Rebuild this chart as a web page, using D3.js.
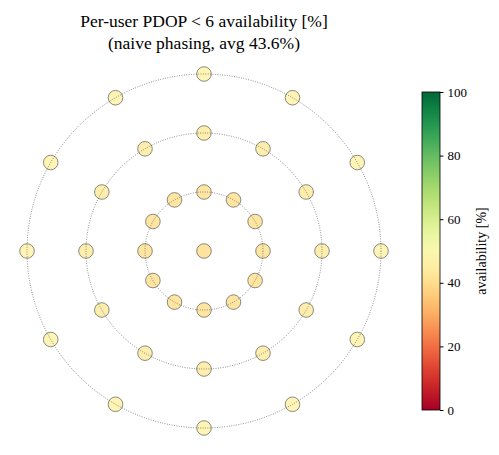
<!DOCTYPE html>
<html><head><meta charset="utf-8">
<script src="https://cdn.jsdelivr.net/npm/d3@7"></script>
<style>body{margin:0;background:#fff} text{font-family:"Liberation Serif","DejaVu Serif",serif}</style>
</head><body>
<svg id="c" width="499" height="455"></svg>
<script>
// --- data ---
const ringRadius = [0, 1, 2, 3];           // ring index (user distance)
const ringCount = [1, 12, 12, 12];         // users per ring
const ringValue = [40, 41, 44, 46.5];      // availability [%] per ring
const cbTicks = [0, 20, 40, 60, 80, 100];
const titleLines = ["Per-user PDOP < 6 availability [%]", "(naive phasing, avg 43.6%)"];

const users = [];
ringRadius.forEach((r, i) => {
  for (let k = 0; k < ringCount[i]; k++) {
    users.push({ r: r, ang: k * 360 / ringCount[i], v: ringValue[i] });
  }
});

const svg = d3.select("#c");
const cx = 204, cy = 251;
const rs = d3.scaleLinear().domain([0, 3]).range([0, 177]);
const color = v => d3.interpolateRdYlGn(v / 100);

const g = svg.append("g").attr("transform", `translate(${cx},${cy})`);
g.selectAll("circle.u").data(users).join("circle").attr("class", "u")
  .attr("cx", d => rs(d.r) * Math.sin(d.ang * Math.PI / 180))
  .attr("cy", d => -rs(d.r) * Math.cos(d.ang * Math.PI / 180))
  .attr("r", 7.3)
  .attr("fill", d => color(d.v)).attr("fill-opacity", 0.85)
  .attr("stroke", "#5a5a5a").attr("stroke-width", 0.7);
g.selectAll("circle.ring").data(ringRadius.filter(r => r > 0)).join("circle").attr("class", "ring")
  .attr("r", d => rs(d)).attr("fill", "none")
  .attr("stroke", "#333").attr("stroke-opacity", 0.85).attr("stroke-width", 0.8).attr("stroke-dasharray", "0.8,1.6");

// title
svg.selectAll("text.t").data(titleLines).join("text").attr("class", "t")
  .attr("x", 204).attr("y", (d, i) => 27 + i * 22)
  .attr("text-anchor", "middle")
  .attr("font-size", 17.5).text(d => d);

// colorbar
const cbX = 422, cbW = 18, cbTop = 92, cbBot = 410;
const cs = d3.scaleLinear().domain([0, 100]).range([cbBot, cbTop]);
const defs = svg.append("defs");
const grad = defs.append("linearGradient").attr("id", "cb").attr("x1", 0).attr("y1", 1).attr("x2", 0).attr("y2", 0);
d3.range(0, 1.0001, 0.05).forEach(t => grad.append("stop").attr("offset", t).attr("stop-color", d3.interpolateRdYlGn(t)));
svg.append("rect").attr("x", cbX).attr("y", cbTop).attr("width", cbW).attr("height", cbBot - cbTop)
  .attr("fill", "url(#cb)").attr("stroke", "#000").attr("stroke-width", 0.8);
const ax = svg.append("g").attr("transform", `translate(${cbX + cbW},0)`)
  .call(d3.axisRight(cs).tickValues(cbTicks).tickSize(3.5).tickPadding(4));
ax.attr("font-family", null);
ax.select(".domain").remove();
ax.selectAll("text").attr("font-size", 13).attr("fill", "#000");
ax.selectAll("line").attr("stroke", "#000");
svg.append("text").attr("transform", `translate(486,${(cbTop + cbBot) / 2}) rotate(-90)`)
  .attr("text-anchor", "middle").attr("font-size", 14)
  .text("availability [%]");
</script>
</body></html>
